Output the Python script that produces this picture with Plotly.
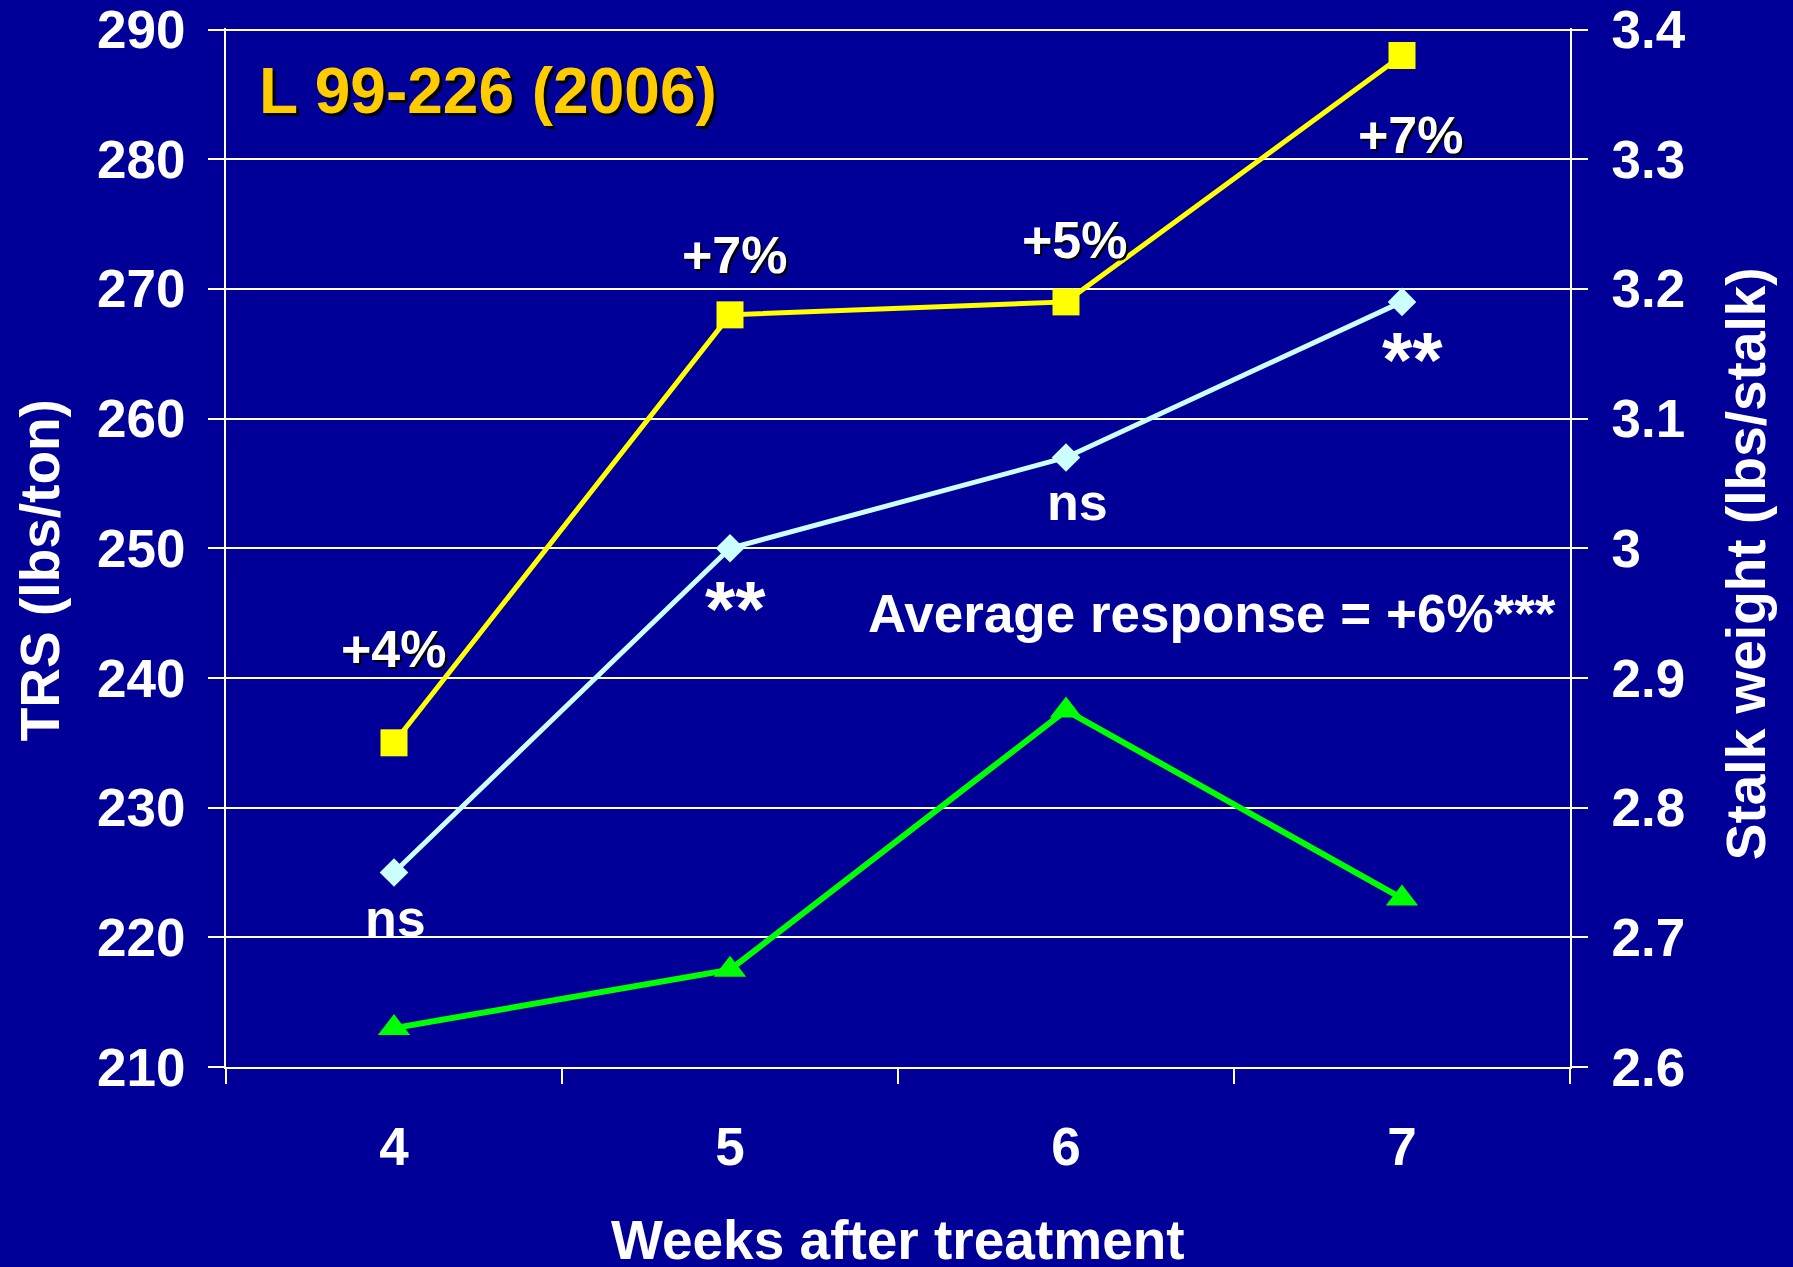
import plotly.graph_objects as go

weeks = ["4", "5", "6", "7"]
trs_yellow = [235, 268, 269, 288]            # left axis (lbs/ton)
stalk_cyan = [2.75, 3.00, 3.07, 3.19]        # right axis (lbs/stalk)
stalk_green = [2.63, 2.675, 2.875, 2.73]     # right axis (lbs/stalk)

left_ticks = [210, 220, 230, 240, 250, 260, 270, 280, 290]
right_ticks = [2.6, 2.7, 2.8, 2.9, 3.0, 3.1, 3.2, 3.3, 3.4]
right_ticktext = ["2.6", "2.7", "2.8", "2.9", "3", "3.1", "3.2", "3.3", "3.4"]

pct_labels = ["+4%", "+7%", "+5%", "+7%"]
pct_y = [242.2, 272.6, 273.8, 281.9]
pct_dx = [0.0, 0.015, 0.027, 0.027]
sig_labels = ["ns", "**", "ns", "**"]
sig_y = [221.5, 245.3, 253.6, 264.5]
sig_dx = [0.005, 0.017, 0.035, 0.03]
sig_size = [52, 78, 52, 78]

BG = "#000099"
FONT = "Arial"

fig = go.Figure()
fig.add_trace(go.Scatter(x=weeks, y=trs_yellow, mode="lines+markers",
                         line=dict(color="#FFFF00", width=5),
                         marker=dict(symbol="square", size=27, color="#FFFF00"),
                         yaxis="y", showlegend=False))
fig.add_trace(go.Scatter(x=weeks, y=stalk_cyan, mode="lines+markers",
                         line=dict(color="#CCFFFF", width=5),
                         marker=dict(symbol="diamond", size=22, color="#CCFFFF"),
                         yaxis="y2", showlegend=False))
fig.add_trace(go.Scatter(x=weeks, y=stalk_green, mode="lines+markers",
                         line=dict(color="#00FF00", width=6),
                         marker=dict(symbol="triangle-up", size=28, color="#00FF00"),
                         yaxis="y2", showlegend=False))

tickfont = dict(family=FONT, size=53, color="white", weight="bold")

# plot-area pixel box (range top slightly above 290 so its grid line is drawn)
L, R, T, B = 226, 1570, 27.5, 1067
YTOP = 290.12
fig.update_layout(
    width=1793, height=1267,
    paper_bgcolor=BG, plot_bgcolor=BG,
    margin=dict(l=L, r=1793 - R, t=T, b=1267 - B, autoexpand=False),
    xaxis=dict(type="category", range=[-0.5, 3.5], tickson="boundaries",
               ticks="outside", ticklen=15, tickwidth=2, tickcolor="white",
               showline=True, linecolor="white", linewidth=2, automargin=False,
               showgrid=False, zeroline=False, tickfont=tickfont,
               ticklabelstandoff=32),
    yaxis=dict(range=[210, YTOP], tickmode="array", tickvals=left_ticks,
               showgrid=True, gridcolor="white", gridwidth=2, zeroline=False,
               automargin=False,
               showline=True, linecolor="white", linewidth=2,
               ticks="outside", ticklen=16, tickwidth=2, tickcolor="white",
               tickfont=tickfont, ticklabelstandoff=12),
    yaxis2=dict(range=[2.6, 2.6 + (YTOP - 210) / 100], tickmode="array", tickvals=right_ticks,
                ticktext=right_ticktext, overlaying="y", side="right",
                showgrid=False, zeroline=False, automargin=False,
                showline=True, linecolor="white", linewidth=2,
                ticks="outside", ticklen=16, tickwidth=2, tickcolor="white",
                tickfont=tickfont, ticklabelstandoff=13),
)

ann = []
def shadow_text(text, x, y, xref, yref, size, color, dx=3, dy=3, xanchor="center"):
    ann.append(dict(text=text, x=x, y=y, xref=xref, yref=yref, showarrow=False,
                    xshift=dx, yshift=-dy, xanchor=xanchor, yanchor="middle",
                    font=dict(family=FONT, size=size, color="black", weight="bold")))
    ann.append(dict(text=text, x=x, y=y, xref=xref, yref=yref, showarrow=False,
                    xanchor=xanchor, yanchor="middle",
                    font=dict(family=FONT, size=size, color=color, weight="bold")))

for i, (t, yy, dx) in enumerate(zip(pct_labels, pct_y, pct_dx)):
    shadow_text(t, i + dx, yy, "x", "y", 52, "white", 2, 2)

for i, (t, yy, dx, sz) in enumerate(zip(sig_labels, sig_y, sig_dx, sig_size)):
    ann.append(dict(text=t, x=i + dx, y=yy, xref="x", yref="y", showarrow=False,
                    xanchor="center", yanchor="middle",
                    font=dict(family=FONT, size=sz, color="white", weight="bold")))

ann.append(dict(text="Average response = +6%***", x=2.434, y=245.0, xref="x", yref="y",
                showarrow=False, xanchor="center", yanchor="middle",
                font=dict(family=FONT, size=53, color="white", weight="bold")))

def px2paper(px, py):
    return (px - L) / (R - L), (B - py) / (B - T)

tx, ty = px2paper(257, 91)
shadow_text("L 99-226 (2006)", tx, ty, "paper", "paper", 64, "#FFCC00", 3, 3, xanchor="left")

# axis titles
for text, px, py, angle in [("Weeks after treatment", 898, 1240, 0),
                            ("TRS (lbs/ton)", 40, 570, -90),
                            ("Stalk weight (lbs/stalk)", 1746, 564, -90)]:
    ax_, ay_ = px2paper(px, py)
    ann.append(dict(text=text, textangle=angle, x=ax_, y=ay_, xref="paper", yref="paper",
                    showarrow=False, xanchor="center", yanchor="middle",
                    font=dict(family=FONT, size=55, color="white", weight="bold")))

fig.update_layout(annotations=ann)
fig.write_html("out.html", config={"displayModeBar": False},
               post_script="document.body.style.margin='0px';document.body.style.overflow='hidden';")
